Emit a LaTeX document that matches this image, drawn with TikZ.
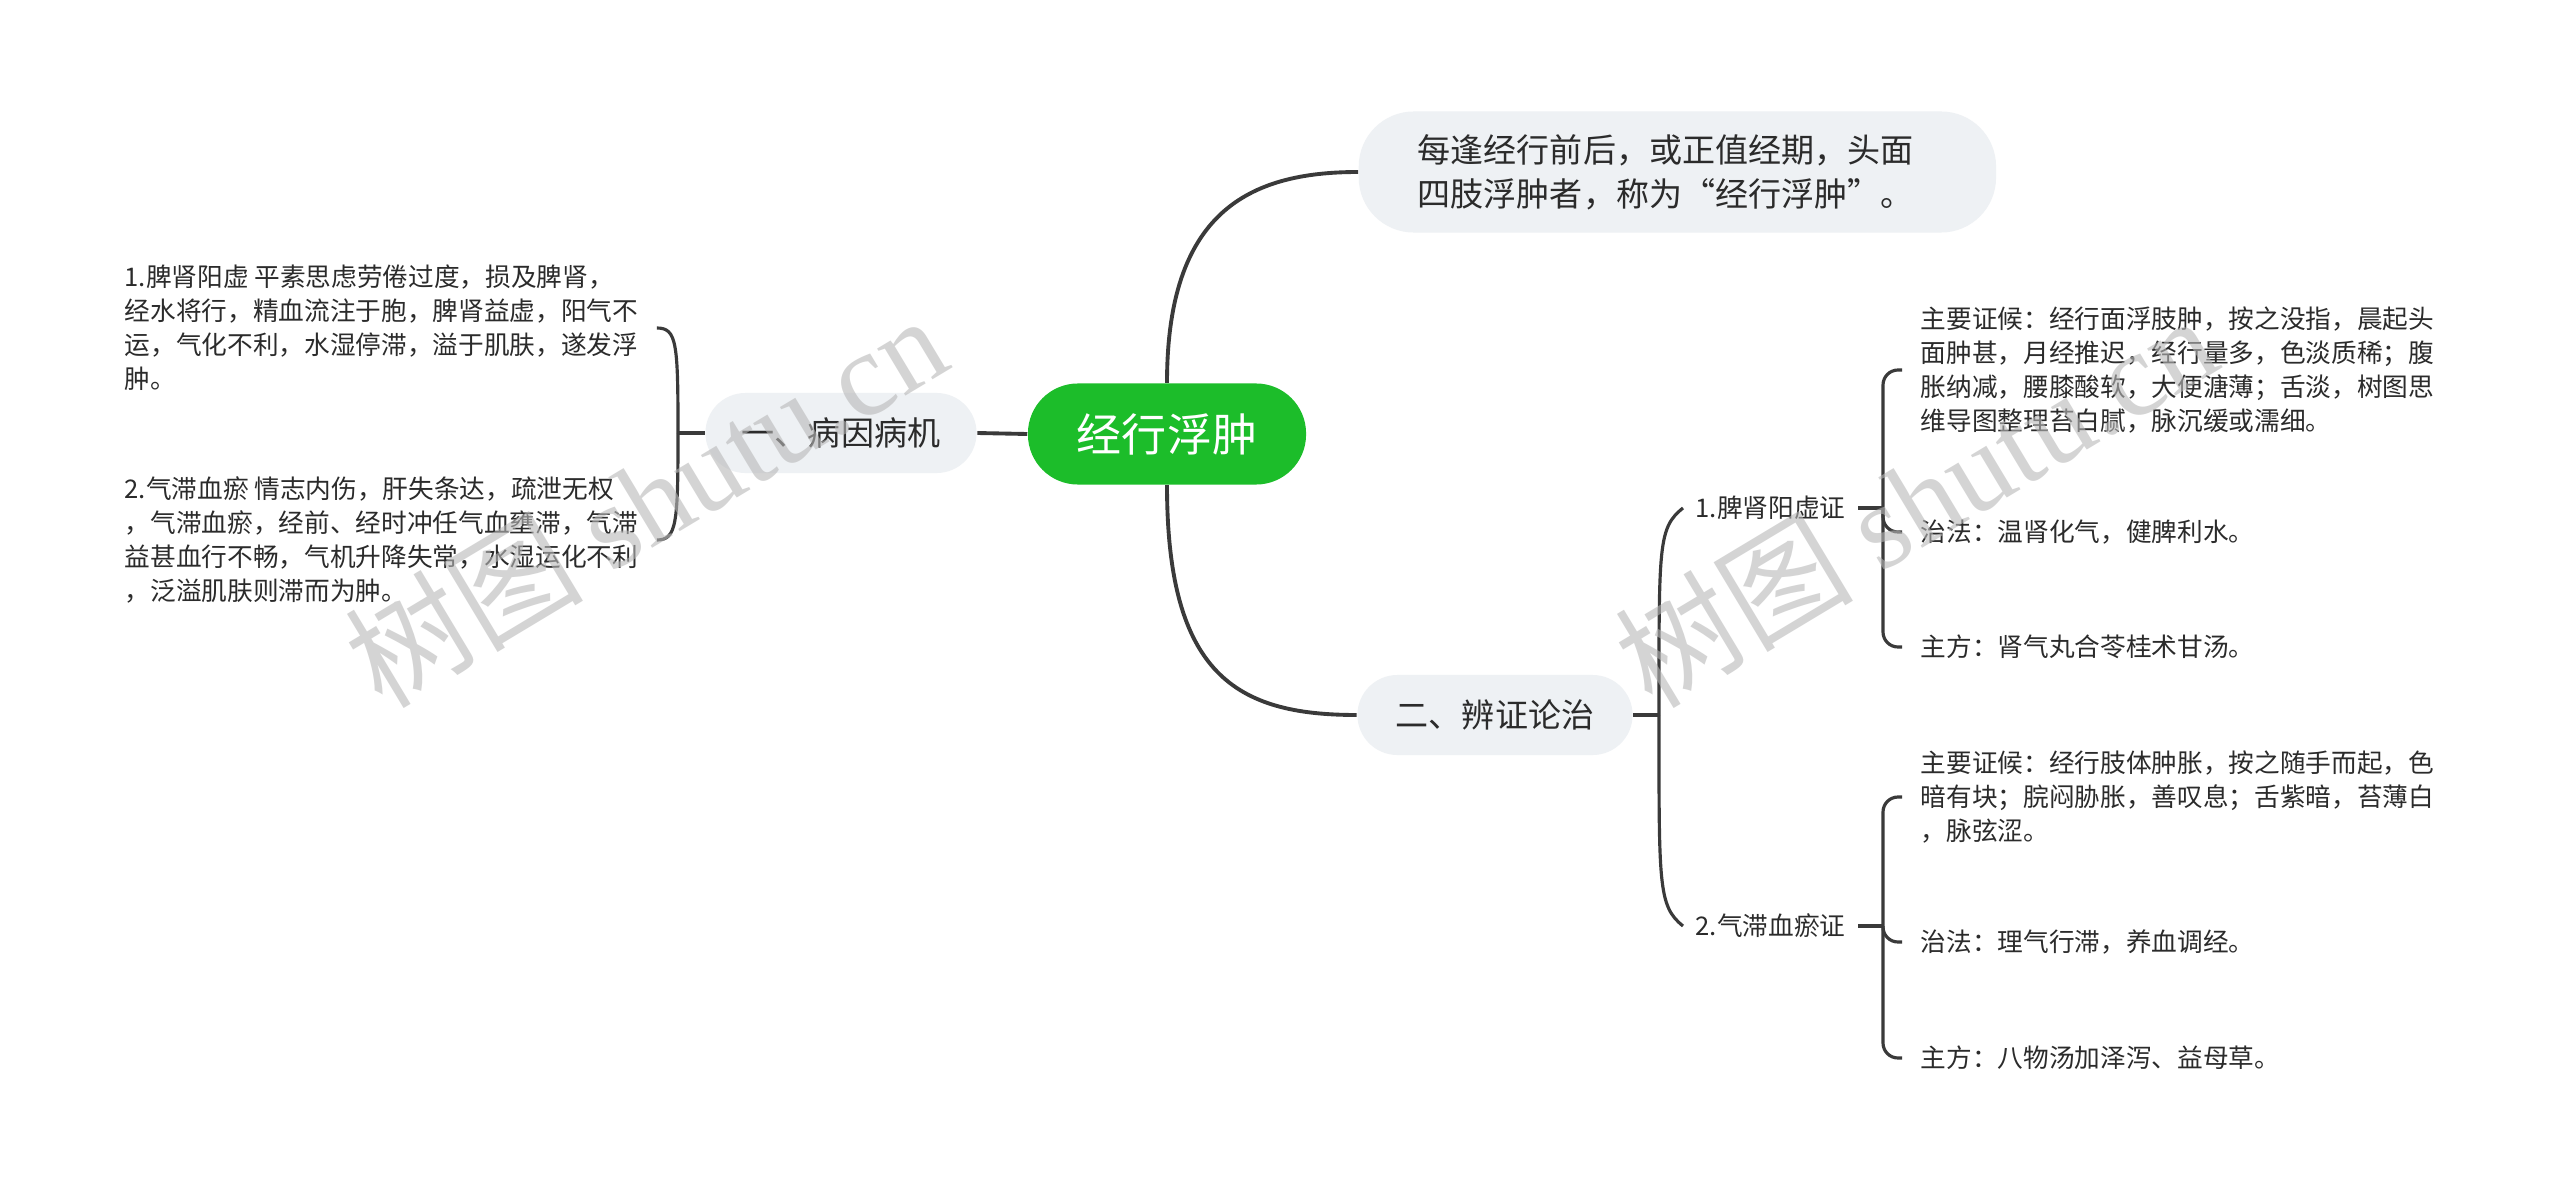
\documentclass[tikz,border=0pt]{standalone}
\usepackage{fontspec}
\setmainfont{Noto Sans CJK SC}
\newfontfamily\wmlatin{Liberation Serif}
\usetikzlibrary{positioning}
\definecolor{rootgreen}{HTML}{1CBD2A}
\definecolor{topicgray}{HTML}{EEF1F4}
\definecolor{linkgray}{HTML}{3A3A3A}
\definecolor{inkgray}{HTML}{2B2B2B}
\definecolor{markgray}{HTML}{B8B8B8}

\begin{document}
\begin{tikzpicture}[
  x=0.01cm, y=-0.01cm,
  root/.style={fill=rootgreen, text=white, rounded corners=0.5cm, minimum width=2.78cm, minimum height=1.01cm, font=\fontsize{12.8}{15}\selectfont},
  topic/.style={fill=topicgray, text=inkgray, rounded corners=0.4cm, minimum height=0.8cm, align=left, font=\fontsize{9.4}{12.5}\selectfont},
  leaf/.style={text=inkgray, align=left, inner xsep=0.18cm, inner ysep=0pt, font=\fontsize{7.3}{9.7}\selectfont},
  wmark/.style={text=markgray, text opacity=0.6, rotate=31, font=\fontsize{34}{34}\selectfont},
  link/.style={draw=linkgray, line width=0.9pt},
  trunk/.style={draw=linkgray, line width=1.1pt}
]
  \useasboundingbox[fill=white] (0,0) rectangle (2560,1197);

  % centre and main topics
  \node[root] (root) at (1167,434) {经行浮肿};
  \node[topic, anchor=west, inner xsep=0.59cm, text width=5.19cm, minimum height=1.21cm, rounded corners=0.55cm] (define) at (1358,172) {每逢经行前后，或正值经期，头面\\四肢浮肿者，称为“经行浮肿”。};
  \node[topic, minimum width=2.71cm] (cause) at (841,433) {一、病因病机};
  \node[topic, minimum width=2.75cm] (treat) at (1495,715) {二、辨证论治};

  % causes
  \node[leaf, anchor=west] (cause1) at (106,328) {1.脾肾阳虚 平素思虑劳倦过度，损及脾肾，\\经水将行，精血流注于胞，脾肾益虚，阳气不\\运，气化不利，水湿停滞，溢于肌肤，遂发浮\\肿。};
  \node[leaf, anchor=west] (cause2) at (106,540) {2.气滞血瘀 情志内伤，肝失条达，疏泄无权\\，气滞血瘀，经前、经时冲任气血壅滞，气滞\\益甚血行不畅，气机升降失常，水湿运化不利\\，泛溢肌肤则滞而为肿。};

  % syndromes
  \node[leaf, inner xsep=0.12cm, anchor=west] (yang) at (1683,508) {1.脾肾阳虚证};
  \node[leaf, inner xsep=0.12cm, anchor=west] (qi) at (1683,926) {2.气滞血瘀证};

  \node[leaf, anchor=west] (yangsign) at (1902,370) {主要证候：经行面浮肢肿，按之没指，晨起头\\面肿甚，月经推迟，经行量多，色淡质稀；腹\\胀纳减，腰膝酸软，大便溏薄；舌淡，树图思\\维导图整理苔白腻，脉沉缓或濡细。};
  \node[leaf, anchor=west] (yangrule) at (1902,532) {治法：温肾化气，健脾利水。};
  \node[leaf, anchor=west] (yangrx) at (1902,647) {主方：肾气丸合苓桂术甘汤。};

  \node[leaf, anchor=west] (qisign) at (1902,797) {主要证候：经行肢体肿胀，按之随手而起，色\\暗有块；脘闷胁胀，善叹息；舌紫暗，苔薄白\\，脉弦涩。};
  \node[leaf, anchor=west] (qirule) at (1902,942) {治法：理气行滞，养血调经。};
  \node[leaf, anchor=west] (qirx) at (1902,1058) {主方：八物汤加泽泻、益母草。};

  % connectors from the centre
  \draw[trunk] (root.north) .. controls +(0,-170) and +(-110,0) .. (define.west);
  \draw[trunk] (root.south) .. controls +(0,190) and +(-120,0) .. (treat.west);
  \draw[trunk] (root.west) -- (cause.east);

  % left bracket
  \coordinate (causej) at (678,433);
  \draw[link] (cause.west) -- (causej);
  \draw[link] (causej) .. controls +(0,-90) and +(20,0) .. (cause1.east);
  \draw[link] (causej) .. controls +(0,90) and +(20,0) .. (cause2.east);

  % right bracket
  \coordinate (treatj) at (1659,715);
  \draw[link] (treat.east) -- (treatj);
  \draw[link] (treatj) .. controls +(0,-170) and +(-25,20) .. (yang.west);
  \draw[link] (treatj) .. controls +(0,170) and +(-25,-20) .. (qi.west);

  % small brackets
  \coordinate (yangj) at (1883,508);
  \draw[link] (yang.east) -- (yangj);
  \draw[link, rounded corners=0.15cm] (yangj) |- (yangsign.west);
  \draw[link, rounded corners=0.15cm] (yangj) |- (yangrule.west);
  \draw[link, rounded corners=0.15cm] (yangj) |- (yangrx.west);

  \coordinate (qij) at (1883,926);
  \draw[link] (qi.east) -- (qij);
  \draw[link, rounded corners=0.15cm] (qij) |- (qisign.west);
  \draw[link, rounded corners=0.15cm] (qij) |- (qirule.west);
  \draw[link, rounded corners=0.15cm] (qij) |- (qirx.west);

  % watermark on top
  \node[wmark] (wmleft) at (645,500) {树图 {\wmlatin shutu.cn}};
  \node[wmark] (wmright) at (1915,500) {树图 {\wmlatin shutu.cn}};
\end{tikzpicture}
\end{document}
